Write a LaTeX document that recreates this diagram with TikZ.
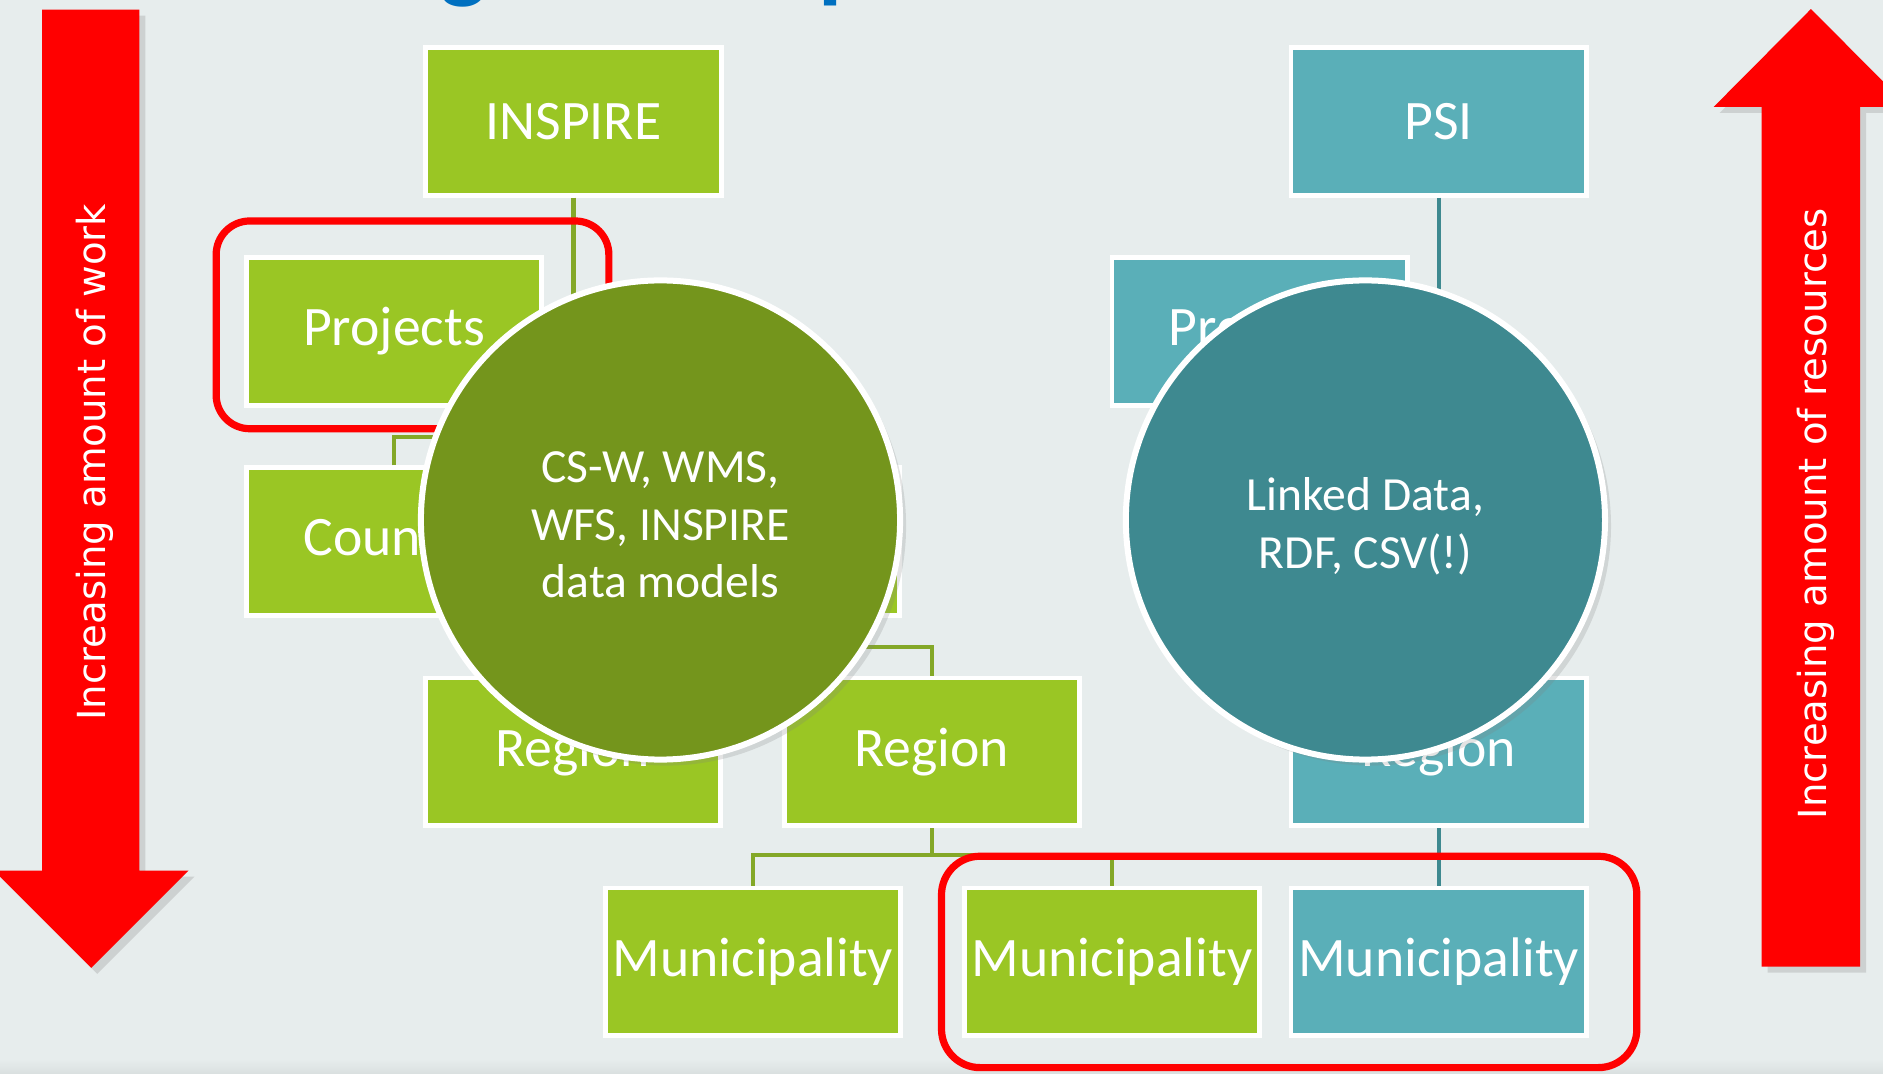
\documentclass[tikz,border=0pt]{standalone}
\usepackage{fontspec}
\setmainfont{Carlito}
\newfontfamily\arrowfont{DejaVu Sans}
\usetikzlibrary{shadows}
\definecolor{bgc}{HTML}{E7EDED}
\definecolor{bgdark}{HTML}{D9DFDF}
\definecolor{boxgreen}{HTML}{9AC624}
\definecolor{boxteal}{HTML}{5AAFB8}
\definecolor{circgreen}{HTML}{74951C}
\definecolor{circteal}{HTML}{3E8990}
\definecolor{linegreen}{HTML}{84A828}
\definecolor{titleblue}{HTML}{0070C0}
\begin{document}
\begin{tikzpicture}[x=0.5pt,y=-0.5pt,
  gbox/.style={rectangle, fill=boxgreen, draw=white, line width=2pt,
    minimum width=123pt, minimum height=61.5pt, inner sep=0pt, text=white,
    font=\fontsize{23.2pt}{28pt}\selectfont},
  tbox/.style={gbox, fill=boxteal},
  gline/.style={draw=linegreen, line width=1.75pt},
  tline/.style={draw=circteal, line width=1.75pt},
  hilite/.style={draw=red, line width=3pt, rounded corners=14pt},
  bigdisc/.style={circle, draw=white, line width=2.5pt, minimum size=199.5pt,
    inner sep=0pt,
    drop shadow={shadow xshift=2.5pt, shadow yshift=-2.5pt, opacity=0.22}},
  disctext/.style={text=white, align=center, inner sep=0pt,
    font=\fontsize{19.8pt}{24pt}\selectfont},
  redarrow/.style={fill=red, drop shadow={shadow xshift=2.5pt, shadow yshift=-2.5pt, opacity=0.25}},
  arrowtext/.style={text=white, rotate=90, inner sep=0pt,
    font=\arrowfont\fontsize{16.1pt}{20pt}\selectfont},
  titlefrag/.style={text=titleblue, inner sep=0pt, anchor=base west,
    font=\bfseries\fontsize{41pt}{50pt}\selectfont}
]
\useasboundingbox (0,0) rectangle (1568,894.3);
\clip (0,0) rectangle (1568,894.3);
\fill[bgc] (0,0) rectangle (1568,894.3);
\shade[top color=bgc, bottom color=bgdark] (0,882) rectangle (1568,894.3);

% cut-off title fragments
\node[titlefrag] (tg) at (366,-8) {g};
\node[titlefrag] (tp) at (681,-8) {p};

% INSPIRE tree
\node[gbox] (inspire) at (477.5,101) {INSPIRE};
\node[gbox] (gproj) at (328,276) {Projects};
\node[gbox] (gcty1) at (328,451) {Country};
\node[gbox] (gcty2) at (626,451) {Country};
\node[gbox] (greg1) at (477,626) {Region};
\node[gbox] (greg2) at (776,626) {Region};
\node[gbox] (gmun1) at (627,801) {Municipality};
\node[gbox] (gmun2) at (926,801) {Municipality};

\coordinate (j1) at (477.5,364);
\coordinate (j2) at (626,539);
\coordinate (j3) at (776,712);
\draw[gline] (inspire.south) -- (j1);
\draw[gline] (gproj.east) -- (gproj.east -| inspire.south);
\draw[gline] (gcty1.north) |- (j1) -| (gcty2.north);
\draw[gline] (gcty2.south) -- (j2);
\draw[gline] (greg1.north) |- (j2) -| (greg2.north);
\draw[gline] (greg2.south) -- (j3);
\draw[gline] (gmun1.north) |- (j3) -| (gmun2.north);

% PSI tree
\node[tbox] (psi) at (1198,101) {PSI};
\node[tbox] (tproj) at (1049,276) {Projects};
\node[tbox] (treg) at (1198,626) {Region};
\node[tbox] (tmun) at (1198,801) {Municipality};
\draw[tline] (psi.south) -- (treg.north);
\draw[tline] (tproj.east) -- (tproj.east -| psi.south);
\draw[tline] (treg.south) -- (tmun.north);

% red highlights
\draw[hilite] (180,184) rectangle (507,357);
\draw[hilite, rounded corners=16pt] (784,713) rectangle (1363,889);

% discs
\node[bigdisc, fill=circgreen] (gdisc) at (550,433) {};
\node[disctext] (gdisctext) at (550,437) {CS-W, WMS,\\WFS, INSPIRE\\data models};
\node[bigdisc, fill=circteal] (tdisc) at (1137,433) {};
\node[disctext] (tdisctext) at (1137,438) {Linked Data,\\RDF, CSV(!)};

% red arrows
\path[redarrow] (35,8) -- (116,8) -- (116,725) -- (157,725) -- (76,806) -- (-5,725) -- (35,725) -- cycle;
\path[redarrow] (1467,805) -- (1549,805) -- (1549,89) -- (1589,89) -- (1508,7.5) -- (1427,89) -- (1467,89) -- cycle;
\node[arrowtext] (lwork) at (79,385) {Increasing amount of work};
\node[arrowtext] (rres) at (1512,428) {Increasing amount of resources};
\end{tikzpicture}
\end{document}
